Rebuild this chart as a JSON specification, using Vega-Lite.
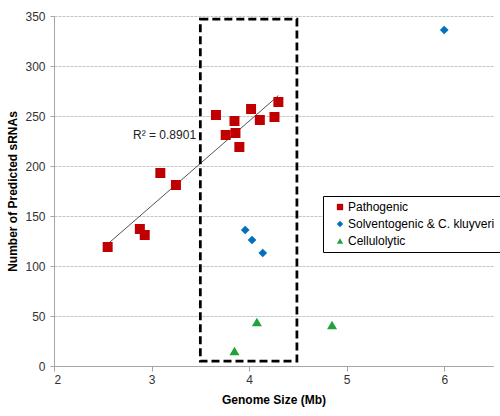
{
  "$schema": "https://vega.github.io/schema/vega-lite/v6.json",
  "width": 439,
  "height": 350,
  "autosize": {"type": "none"},
  "padding": {"left": 54, "top": 16, "right": 7, "bottom": 50},
  "background": "white",
  "config": {
    "font": "Liberation Sans",
    "view": {"stroke": null},
    "axis": {
      "domainColor": "#a6a6a6",
      "tickColor": "#a6a6a6",
      "labelFont": "Liberation Sans",
      "labelFontSize": 12,
      "labelColor": "#333333",
      "titleFont": "Liberation Sans",
      "titleFontSize": 12,
      "titleFontWeight": "bold",
      "titleColor": "#000000"
    },
    "legend": {
      "orient": "none",
      "legendX": 269,
      "legendY": 180,
      "strokeColor": "#000000",
      "strokeWidth": 1,
      "fillColor": "#ffffff",
      "padding": 5,
      "rowPadding": 5,
      "symbolSize": 40,
      "symbolOffset": 6,
      "labelOffset": 2,
      "labelFont": "Liberation Sans",
      "labelFontSize": 12,
      "labelColor": "#000000",
      "labelLimit": 300
    }
  },
  "datasets": {
    "points": [
      {"group": "Pathogenic", "x": 2.55, "y": 119},
      {"group": "Pathogenic", "x": 2.88, "y": 137},
      {"group": "Pathogenic", "x": 2.93, "y": 131},
      {"group": "Pathogenic", "x": 3.09, "y": 193},
      {"group": "Pathogenic", "x": 3.25, "y": 181},
      {"group": "Pathogenic", "x": 3.66, "y": 251},
      {"group": "Pathogenic", "x": 3.76, "y": 231},
      {"group": "Pathogenic", "x": 3.85, "y": 245},
      {"group": "Pathogenic", "x": 3.86, "y": 233},
      {"group": "Pathogenic", "x": 3.90, "y": 219},
      {"group": "Pathogenic", "x": 4.02, "y": 257},
      {"group": "Pathogenic", "x": 4.11, "y": 246},
      {"group": "Pathogenic", "x": 4.26, "y": 249},
      {"group": "Pathogenic", "x": 4.30, "y": 264},
      {"group": "Solventogenic & C. kluyveri", "x": 3.96, "y": 136},
      {"group": "Solventogenic & C. kluyveri", "x": 4.03, "y": 126},
      {"group": "Solventogenic & C. kluyveri", "x": 4.14, "y": 113},
      {"group": "Solventogenic & C. kluyveri", "x": 6.0, "y": 336},
      {"group": "Cellulolytic", "x": 3.85, "y": 15},
      {"group": "Cellulolytic", "x": 4.08, "y": 44},
      {"group": "Cellulolytic", "x": 4.85, "y": 41}
    ],
    "box": [{"x": 3.5, "x2": 4.49, "y": 5, "y2": 347}],
    "note": [{"x": 2.81, "y": 231, "label": "R² = 0.8901"}]
  },
  "encoding": {
    "x": {
      "field": "x",
      "type": "quantitative",
      "scale": {"domain": [2, 6.5], "nice": false, "zero": false},
      "axis": {
        "title": "Genome Size (Mb)",
        "values": [2, 3, 4, 5, 6],
        "grid": false,
        "tickSize": 5,
        "labelPadding": 3,
        "titlePadding": 9
      }
    },
    "y": {
      "field": "y",
      "type": "quantitative",
      "scale": {"domain": [0, 350], "nice": false},
      "axis": {
        "title": "Number of Predicted sRNAs",
        "values": [0, 50, 100, 150, 200, 250, 300, 350],
        "grid": true,
        "gridColor": "#c4c4c4",
        "gridDash": [3, 1],
        "tickSize": 4,
        "labelPadding": 5,
        "titlePadding": 5
      }
    },
    "color": {
      "field": "group",
      "type": "nominal",
      "title": null,
      "scale": {
        "domain": ["Pathogenic", "Solventogenic & C. kluyveri", "Cellulolytic"],
        "range": ["#C00000", "#0070C0", "#1FA33A"]
      },
      "legend": {"labelExpr": "datum.label + '\u00a0\u00a0\u00a0'"}
    },
    "shape": {
      "field": "group",
      "type": "nominal",
      "title": null,
      "scale": {
        "domain": ["Pathogenic", "Solventogenic & C. kluyveri", "Cellulolytic"],
        "range": ["square", "diamond", "triangle-up"]
      },
      "legend": {"labelExpr": "datum.label + '\u00a0\u00a0\u00a0'"}
    }
  },
  "layer": [
    {
      "data": {"name": "points"},
      "transform": [
        {"filter": "datum.group === 'Pathogenic'"},
        {"regression": "y", "on": "x"}
      ],
      "mark": {"type": "line", "color": "#404040", "strokeWidth": 0.9},
      "encoding": {"color": null, "shape": null}
    },
    {
      "data": {"name": "points"},
      "transform": [{"filter": "datum.group === 'Pathogenic'"}],
      "mark": {"type": "point", "filled": true, "opacity": 1, "size": 100}
    },
    {
      "data": {"name": "points"},
      "transform": [{"filter": "datum.group === 'Solventogenic & C. kluyveri'"}],
      "mark": {"type": "point", "filled": true, "opacity": 1, "size": 76}
    },
    {
      "data": {"name": "points"},
      "transform": [{"filter": "datum.group === 'Cellulolytic'"}],
      "mark": {"type": "point", "filled": true, "opacity": 1, "size": 100}
    },
    {
      "data": {"name": "box"},
      "mark": {"type": "rect", "fill": null, "stroke": "#000000", "strokeWidth": 2.75, "strokeDash": [8, 4]},
      "encoding": {"x2": {"field": "x2"}, "y2": {"field": "y2"}, "color": null, "shape": null}
    },
    {
      "data": {"name": "note"},
      "mark": {"type": "text", "align": "left", "baseline": "middle", "fontSize": 12, "color": "#222222", "font": "Liberation Sans"},
      "encoding": {"text": {"field": "label"}, "color": null, "shape": null}
    }
  ]
}
